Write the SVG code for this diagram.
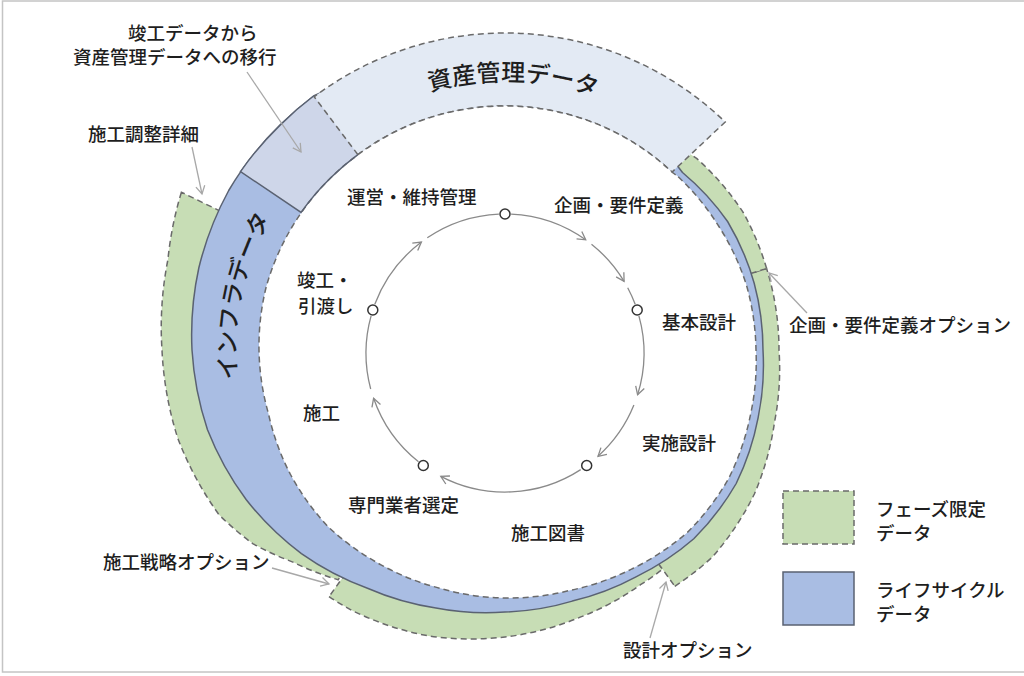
<svg xmlns="http://www.w3.org/2000/svg" width="1024" height="676" viewBox="0 0 1024 676">
<style>
text{font-family:"Noto Sans CJK JP","Noto Sans CJK SC",sans-serif;font-size:18.5px;font-weight:500;fill:#1e1e1e}
.big{font-size:24px}
.green{fill:#c7ddb5;stroke:#6a6a6a;stroke-width:1.5;stroke-dasharray:6 4}
.blue{fill:#a9bde3;stroke:#5a6272;stroke-width:1.5}
.trans{fill:#ced6e9}
.solid{fill:none;stroke:#5a6272;stroke-width:1.5}
.asset{fill:#e3eaf4;stroke:#6a6a6a;stroke-width:1.5;stroke-dasharray:6 4}
.inner{fill:#ffffff;stroke:#6a6a6a;stroke-width:1.5;stroke-dasharray:6 4}
.cyc{fill:none;stroke:#8a8a8a;stroke-width:1.3;marker-end:url(#ah)}
.cycn{fill:none;stroke:#8a8a8a;stroke-width:1.3}
.node{fill:#ffffff;stroke:#333333;stroke-width:1.5}
.call{fill:none;stroke:#a8a8a8;stroke-width:1.3;marker-end:url(#ah2)}
</style>
<defs>
<marker id="ah" viewBox="-10 -6 12 12" refX="0" refY="0" markerWidth="12" markerHeight="12" markerUnits="userSpaceOnUse" orient="auto"><path d="M-8,-4.5 L0,0 L-8,4.5" fill="none" stroke="#8a8a8a" stroke-width="1.3"/></marker>
<marker id="ah2" viewBox="-10 -6 12 12" refX="0" refY="0" markerWidth="12" markerHeight="12" markerUnits="userSpaceOnUse" orient="auto"><path d="M-8,-4.5 L0,0 L-8,4.5" fill="none" stroke="#a8a8a8" stroke-width="1.3"/></marker>
<path id="assetPath" d="M377.5,113.1 A269,269 0 0 1 646.4,121.1"/>
<path id="infraPath" d="M249.7,434.7 A269,269 0 0 1 304,171.2"/>
</defs>
<rect x="0" y="0" width="1024" height="676" fill="#ffffff"/>
<rect x="2.5" y="1" width="1030" height="671" fill="none" stroke="#c4c4c4" stroke-width="1.5"/>

<g id="phase-construction-detail">
<path class="green" d="M181.4,192.2 A354.5,354.5 0 0 0 167.9,259.7 A346,346 0 0 0 162,350 A341,341 0 0 0 177.6,437.7 A334.5,334.5 0 0 0 219.2,515 A324,324 0 0 0 252.7,543.6 A309,309 0 0 0 292.9,562.1 A292,292 0 0 0 338.1,579.8 L369.8,536.1 L298.3,249.2 Z"/>
</g>
<g id="phase-construction-strategy">
<path class="green" d="M329,596.7 A302.5,302.5 0 0 0 354,611.5 A299,299 0 0 0 428.4,635.9 A291.5,291.5 0 0 0 505,637 A282.5,282.5 0 0 0 576.9,618.5 A274.5,274.5 0 0 0 640.5,584.7 A270.5,270.5 0 0 0 662.5,569.3 L639.2,536.8 L371.4,537.2 Z"/>
</g>
<g id="phase-design">
<path class="green" d="M674.8,586.3 A292,292 0 0 0 712.2,557.2 A290.5,290.5 0 0 0 754.4,494 A283.5,283.5 0 0 0 774.5,422.2 A276.5,276.5 0 0 0 779,350 A274,274 0 0 0 769.7,279.1 A274,274 0 0 0 766.6,268.5 L724.6,281.6 L639.2,536.8 Z"/>
</g>
<g id="phase-planning">
<path class="green" d="M766.6,268.5 A274.5,274.5 0 0 0 743.2,212.5 A273,273 0 0 0 696.6,158.4 A269,269 0 0 0 676.6,145.5 L652.8,173.8 L724.6,281.6 Z"/>
</g>

<g id="infra-data">
<path class="blue" d="M682.5,172.5 A254,254 0 0 1 727.6,221.5 A257.5,257.5 0 0 1 754.2,283.2 A258,258 0 0 1 763,350 A260,260 0 0 1 758.1,417.8 A264.5,264.5 0 0 1 736.2,483.5 A267,267 0 0 1 693.8,538.8 A264.5,264.5 0 0 1 636,576.9 A261,261 0 0 1 572.3,601.1 A261,261 0 0 1 505,612 A264.5,264.5 0 0 1 435.9,607.9 A271,271 0 0 1 367.5,588.2 A281.5,281.5 0 0 1 301.4,553.6 A293.5,293.5 0 0 1 246.1,499.5 A303.5,303.5 0 0 1 207.5,429.7 A310.5,310.5 0 0 1 192,350 A315,315 0 0 1 198.8,268 A318,318 0 0 1 228.7,190.5 A318.5,318.5 0 0 1 280.1,125.1 A318,318 0 0 1 313.6,96 L349,80 A306,306 0 0 1 427.4,60.2 A295,295 0 0 1 505,60 A285,285 0 0 1 577.5,79.5 A271,271 0 0 1 636,123.1 A256,256 0 0 1 682.5,172.5 Z"/>
</g>

<g id="transition">
<path class="trans" d="M301.1,212.4 L240.5,171.6 A318.5,318.5 0 0 1 280.1,125.1 A318,318 0 0 1 313.6,96 L357.9,154.7 A245,245 0 0 0 331.8,176.8 A245.5,245.5 0 0 0 301.1,212.4 Z"/>
</g>

<g id="asset-data">
<path class="asset" d="M357.9,154.7 L314.2,96.8 A317,317 0 0 1 725.2,122 L672,172.1 A245,245 0 0 0 357.9,154.7 Z"/>
</g>

<g id="inner-area">
<path class="inner" d="M678.2,176.8 A246,246 0 0 1 718.9,226.5 A248.5,248.5 0 0 1 746.5,285.3 A250.5,250.5 0 0 1 756,350 A252.5,252.5 0 0 1 750.3,415.7 A256,256 0 0 1 728.4,479 A258,258 0 0 1 687.4,532.4 A255.5,255.5 0 0 1 631.5,569.1 A251,251 0 0 1 569.4,590.5 A248.5,248.5 0 0 1 505,598 A247.5,247.5 0 0 1 441.1,588.6 A247.5,247.5 0 0 1 381,564.8 A249,249 0 0 1 328.2,526.8 A249,249 0 0 1 290.2,474 A246.5,246.5 0 0 1 268.4,413.4 A245.5,245.5 0 0 1 259,350 A246.5,246.5 0 0 1 266.4,286.1 A246.5,246.5 0 0 1 292,227 A245.5,245.5 0 0 1 331.8,176.8 A245,245 0 0 1 357.9,154.7 A245,245 0 0 1 672,172.1 A244.5,244.5 0 0 1 678.2,176.8 Z"/>
<path class="solid" d="M357.9,154.7 A245,245 0 0 0 331.8,176.8 A245.5,245.5 0 0 0 301.1,212.4 L240.5,171.6 A318.5,318.5 0 0 1 280.1,125.1 A318,318 0 0 1 313.6,96"/>
</g>

<g id="band-labels">
<text class="big" text-anchor="middle"><textPath href="#assetPath" startOffset="50%">資産管理データ</textPath></text>
<text class="big" text-anchor="middle"><textPath href="#infraPath" startOffset="50%">インフラデータ</textPath></text>
</g>

<g id="connectors">
<path class="cyc" d="M374.8,304.3 A139,139 0 0 1 421.4,242"/>
<path class="cycn" d="M427.3,237.8 A139,139 0 0 1 498.9,214.1"/>
<path class="cyc" d="M511.1,214.1 A139,139 0 0 1 585.7,239.8"/>
<path class="cyc" d="M591.5,244.2 A139,139 0 0 1 624.1,281.4"/>
<path class="cycn" d="M627.7,287.7 A139,139 0 0 1 635.2,304.3"/>
<path class="cyc" d="M638.9,315.9 A139,139 0 0 1 637.6,394.8"/>
<path class="cyc" d="M633.9,405.1 A139,139 0 0 1 598,456.3"/>
<path class="cyc" d="M580.7,469.6 A139,139 0 0 1 440.8,476.3"/>
<path class="cyc" d="M418.5,461.8 A139,139 0 0 1 373.6,398.3"/>
<path class="cycn" d="M370.7,389 A139,139 0 0 1 371.1,315.9"/>
<path class="call" d="M247,72 L301,152"/>
<path class="call" d="M192,147 L202,194"/>
<path class="call" d="M807,313 L769,273"/>
<path class="call" d="M272,568 L329,584"/>
<path class="call" d="M650,638 L666,582"/>
</g>

<g id="phase-nodes">
<circle class="node" cx="505" cy="214" r="5"/>
<circle class="node" cx="637.2" cy="310" r="5"/>
<circle class="node" cx="586.7" cy="465.5" r="5"/>
<circle class="node" cx="423.3" cy="465.5" r="5"/>
<circle class="node" cx="372.8" cy="310" r="5"/>
</g>

<g id="labels">
<text x="128" y="40">竣工データから</text>
<text x="73" y="64">資産管理データへの移行</text>
<text x="88" y="140.7">施工調整詳細</text>
<text x="347" y="203.5">運営・維持管理</text>
<text x="554" y="212">企画・要件定義</text>
<text x="297" y="287">竣工・</text>
<text x="298" y="313">引渡し</text>
<text x="662" y="329">基本設計</text>
<text x="303" y="420">施工</text>
<text x="642" y="450">実施設計</text>
<text x="348" y="512">専門業者選定</text>
<text x="511" y="540">施工図書</text>
<text x="789" y="332">企画・要件定義オプション</text>
<text x="103" y="569">施工戦略オプション</text>
<text x="623" y="657">設計オプション</text>
</g>

<g id="legend">
<rect x="783" y="491" width="71" height="53" fill="#c7ddb5" stroke="#6a6a6a" stroke-width="1.5" stroke-dasharray="6 4"/>
<rect x="783" y="572" width="71" height="53" fill="#a9bde3" stroke="#5a6272" stroke-width="1.5"/>
<text x="876" y="515.5">フェーズ限定</text>
<text x="876" y="539.5">データ</text>
<text x="876" y="597">ライフサイクル</text>
<text x="876" y="621">データ</text>
</g>
</svg>
